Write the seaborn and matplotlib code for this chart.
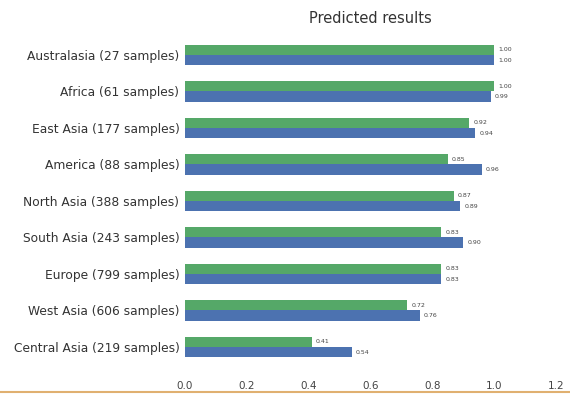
import pandas as pd
import matplotlib.pyplot as plt
import seaborn as sns

regions = ['Australasia (27 samples)', 'Africa (61 samples)', 'East Asia (177 samples)',
           'America (88 samples)', 'North Asia (388 samples)', 'South Asia (243 samples)',
           'Europe (799 samples)', 'West Asia (606 samples)', 'Central Asia (219 samples)']
green_vals = [1.00, 1.00, 0.92, 0.85, 0.87, 0.83, 0.83, 0.72, 0.41]
blue_vals = [1.00, 0.99, 0.94, 0.96, 0.89, 0.90, 0.83, 0.76, 0.54]
series = ['Model A', 'Model B']

df = pd.DataFrame({
    'region': regions * 2,
    'score': green_vals + blue_vals,
    'model': [series[0]] * len(regions) + [series[1]] * len(regions),
})

sns.set_style('white')
fig = plt.figure(figsize=(5.7, 3.94), dpi=100)
ax = fig.add_axes([0.3246, 0.073, 0.6504, 0.834])

sns.barplot(data=df, y='region', x='score', hue='model', hue_order=series,
            palette=['#55a868', '#4c72b0'], width=0.56, orient='h', ax=ax,
            legend=False, saturation=1, linewidth=0, edgecolor='none')

for c in ax.containers:
    ax.bar_label(c, fmt='%.2f', padding=3, fontsize=4.5, color='#444444')

ax.set_xlim(0, 1.2)
ax.set_xticks([0.0, 0.2, 0.4, 0.6, 0.8, 1.0, 1.2])
ax.set_xlabel('')
ax.set_ylabel('')
ax.tick_params(axis='y', length=0, labelsize=8.8, colors='#333333', pad=4)
ax.tick_params(axis='x', length=0, labelsize=7.5, colors='#444444', pad=11)
sns.despine(left=True, bottom=True)
ax.set_title('Predicted results', fontsize=10.5, color='#333333', pad=10)

# thin frame line at the bottom of the screenshot
fig.add_artist(plt.Line2D([0, 1], [0.006, 0.006], color='#e0b070', lw=1.5))

plt.savefig('out.png', dpi=100, facecolor='white')
